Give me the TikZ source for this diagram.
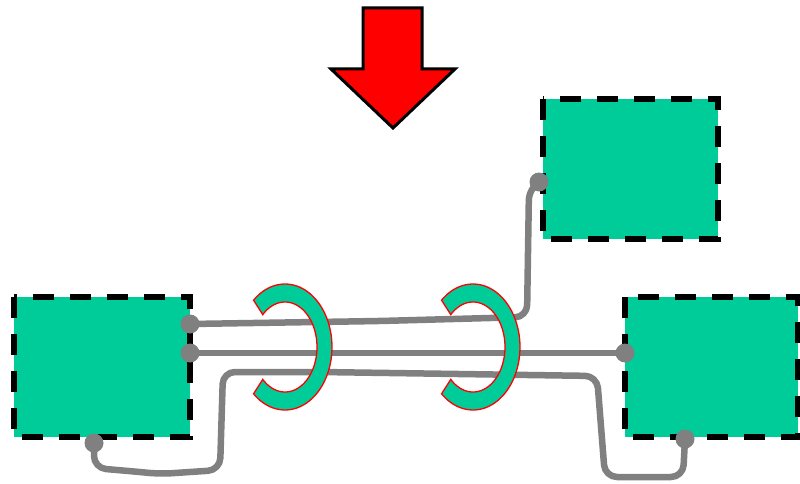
\documentclass[tikz,border=0pt]{standalone}
\begin{document}
\begin{tikzpicture}[x=1pt,y=-1pt,
  box/.style={fill=ringgreen,draw=black,line width=5.5pt,dash pattern=on 21pt off 16pt},
  wire/.style={draw=wiregray,line width=6.5pt,line cap=round,line join=round,rounded corners=12pt},
  pin/.style={circle,fill=wiregray,inner sep=0pt,minimum size=19pt},
  ring/.style={fill=ringgreen,draw=red,line width=1.3pt}]
\definecolor{ringgreen}{HTML}{00CC99}
\definecolor{wiregray}{HTML}{808080}
\useasboundingbox (0,0) rectangle (800,484);
% boxes
\draw[box] (14,297) rectangle (190,437);
\draw[box] (625,297) rectangle (798,437);
\draw[box] (543,99) rectangle (718,239);
% pins coordinates
\coordinate (L1) at (190,324);
\coordinate (L2) at (190,353);
\coordinate (L3) at (94,443);
\coordinate (R1) at (625,353);
\coordinate (R2) at (685,439);
\coordinate (T1) at (539,182);
% wires
\draw[wire] (L1) -- (380,321) -- (527,317) -- (529,188) -- (T1);
\draw[wire] (L2) -- (R1);
\draw[wire] (L3) -- (94,468) -- (140,472) -- (160,474) -- (220,470) -- (223,372) -- (320,372) -- (597,376) -- (605,477) -- (683,477) -- (R2);
% pins
\foreach \p in {L1,L2,L3,R1,R2,T1} \node[pin] at (\p) {};
% rings
\foreach \cx in {285,473} {
  \draw[ring] plot[domain=132:-132,samples=80,smooth] ({\cx+47*cos(\x)},{347-63*sin(\x)})
    -- plot[domain=-134:134,samples=80,smooth] ({\cx+32*cos(\x)},{347-45*sin(\x)}) -- cycle;
}
% arrow
\draw[fill=red,draw=black,line width=3pt,line join=miter]
  (363,8) -- (422,8) -- (422,69) -- (455,69) -- (393,128) -- (331,69) -- (363,69) -- cycle;
\end{tikzpicture}
\end{document}
